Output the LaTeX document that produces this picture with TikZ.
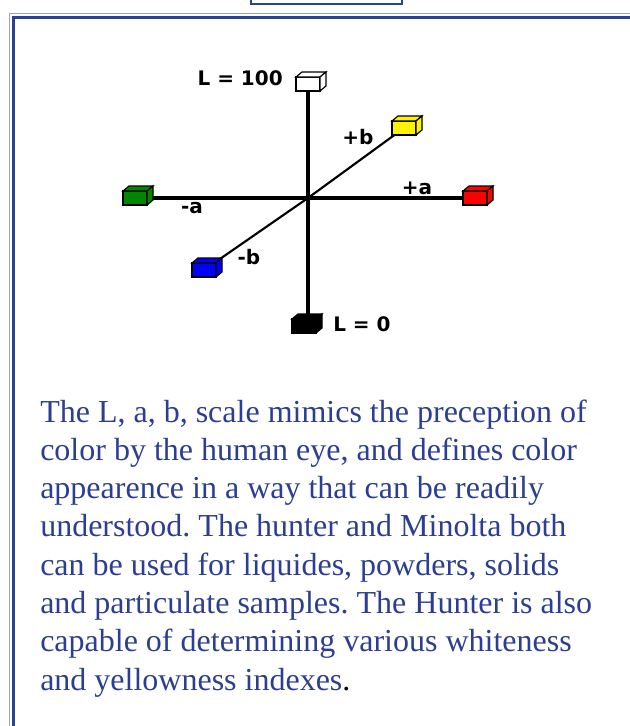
\documentclass[tikz,border=0pt]{standalone}
\usepackage{fontspec}
\setmainfont{Liberation Serif}
\newfontfamily\labfont{DejaVu Sans}
\definecolor{navy}{RGB}{44,62,145}
\definecolor{framedark}{RGB}{42,66,150}
\definecolor{framelight}{RGB}{150,165,205}
\definecolor{labgreen}{RGB}{0,135,0}
\frenchspacing
\begin{document}
\begin{tikzpicture}[x=0.75pt,y=-0.75pt,
  axis/.style={line width=2.3pt},
  cube/.style={draw, fill=#1, line width=0.9pt, inner sep=0pt, outer sep=0pt, minimum width=18pt, minimum height=10.5pt},
  lab/.style={font=\labfont\bfseries\fontsize{15}{15}\selectfont, inner sep=0pt}]
\useasboundingbox (0,0) rectangle (630,726);
\draw[framelight, line width=1pt] (9.5,740) -- (9.5,13.5) -- (640,13.5);
\draw[framedark, line width=2.4pt] (13.5,740) -- (13.5,17.5) -- (640,17.5);
\draw[framedark, line width=1.5pt, fill=white] (250.5,-5) rectangle (401.5,3.5);

\coordinate (origin) at (308,198);
\node[cube=white] (white) at (308,84) {};
\node[cube=yellow] (yellow) at (404,128) {};
\node[cube=labgreen] (green) at (135,198) {};
\node[cube=red] (red) at (475,198) {};
\node[cube=blue] (blue) at (204,270) {};
\node[cube=black] (black) at (304,326) {};

\draw[axis] (white) -- (origin) -- (black.north -| origin);
\draw[axis] (green) -- (red);
\draw[axis, line width=1.6pt] (blue) -- (origin) -- (yellow);

\foreach \n/\c in {white/white, yellow/yellow, green/labgreen, red/red, blue/blue, black/black}
{
	\filldraw[fill=\c, line width=0.9pt] (\n.north west) -- ++(6,-5) -- ++(24,0) -- (\n.north east) -- cycle;
	\filldraw[fill=\c, line width=0.9pt] (\n.north east) -- ++(6,-5) -- ++(0,14) -- (\n.south east) -- cycle;
}

\node[lab, anchor=east] (lhigh) at (283,78) {L = 100};
\node[lab] (bplus) at (358,137) {+b};
\node[lab] (aplus) at (417,188) {+a};
\node[lab] (aminus) at (192,208) {-a};
\node[lab] (bminus) at (249,257) {-b};
\node[lab, anchor=west] (llow) at (333,324) {L = 0};

\node[anchor=base west, align=left, inner sep=0pt, text=navy, font=\fontsize{24}{28.7}\selectfont] (blurb) at (40,690)
{The L, a, b, scale mimics the preception of\\
color by the human eye, and defines color\\
appearence in a way that can be readily\\
understood. The hunter and Minolta both\\
can be used for liquides, powders, solids\\
and particulate samples. The Hunter is also\\
capable of determining various whiteness\\
and yellowness indexes\textcolor{black}{.}};
\end{tikzpicture}
\end{document}
